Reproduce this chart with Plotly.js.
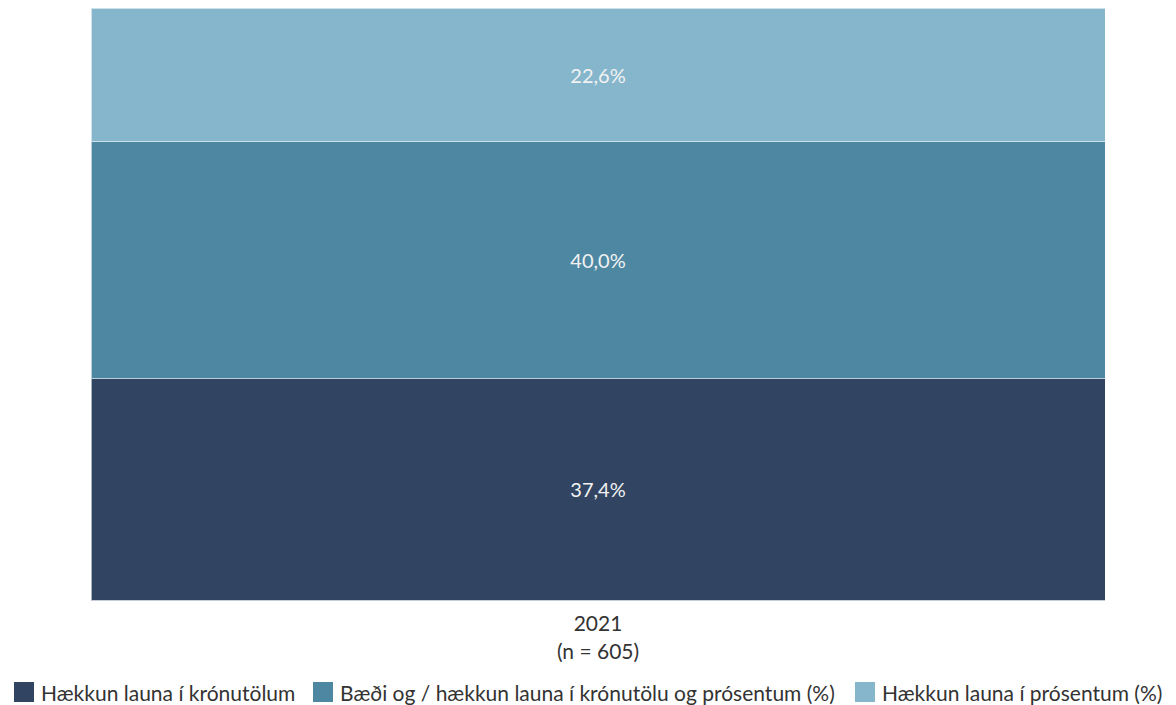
<!DOCTYPE html>
<html>
<head>
<meta charset="utf-8">
<script src="https://cdn.plot.ly/plotly-3.0.1.min.js"></script>
<style>html,body{margin:0;padding:0;background:#fff;}#chart{width:1176px;height:705px;}</style>
</head>
<body>
<div id="chart"></div>
<script>
const categories = ['2021<br>(n = 605)'];
const seriesNames = ['Hækkun launa í krónutölum', 'Bæði og / hækkun launa í krónutölu og prósentum (%)', 'Hækkun launa í prósentum (%)'];
const krona = [37.4];
const bothKronaPercent = [40.0];
const percent = [22.6];
const colors = ['#314563', '#4e87a2', '#86b6cc'];
const seriesValues = [krona, bothKronaPercent, percent];

const W = 1176, H = 705;
const M = {l: 91, r: 71, t: 8, b: 105};
const pw = W - M.l - M.r, ph = H - M.t - M.b;
const px = x => (x - M.l) / pw;          // pixel -> paper x
const py = y => (H - M.b - y) / ph;      // pixel -> paper y

const fontFam = 'Lato, "Noto Sans", sans-serif';
const traces = seriesValues.map((vals, i) => ({
  type: 'bar',
  name: seriesNames[i],
  x: categories,
  y: vals,
  marker: {color: colors[i], line: {color: 'rgba(255,255,255,0.6)', width: 1}},
  text: vals.map(v => v.toFixed(1).replace('.', ',') + '%'),
  textposition: 'inside',
  insidetextanchor: 'middle',
  textfont: {color: '#f2f2f2', size: 20, family: fontFam},
  hoverinfo: 'none',
  showlegend: false
}));

// custom legend (squares + labels) positioned like the reference
const legendX = [14, 313, 855];
const legendY = 692;
const shapes = seriesNames.map((n, i) => ({
  type: 'rect', xref: 'paper', yref: 'paper',
  x0: px(legendX[i]), x1: px(legendX[i] + 20), y0: py(legendY + 10), y1: py(legendY - 10),
  fillcolor: colors[i], line: {width: 0}
}));
const annotations = seriesNames.map((n, i) => ({
  text: n, xref: 'paper', yref: 'paper', x: px(legendX[i] + 25), y: py(legendY),
  xanchor: 'left', yanchor: 'middle', showarrow: false,
  font: {size: 21, color: '#333', family: fontFam}
}));

const layout = {
  width: W, height: H,
  margin: M,
  barmode: 'stack',
  bargap: 0,
  paper_bgcolor: '#fff', plot_bgcolor: '#fff',
  font: {family: fontFam, size: 21, color: '#333'},
  xaxis: {type: 'category', showline: true, linecolor: '#c5cbd8', linewidth: 1, ticks: 'outside', ticklen: 5, tickcolor: 'rgba(0,0,0,0)', tickfont: {size: 21, color: '#333'}, fixedrange: true},
  yaxis: {range: [0, 100], visible: false, fixedrange: true},
  showlegend: false,
  shapes: shapes,
  annotations: annotations
};
Plotly.newPlot('chart', traces, layout, {displayModeBar: false, staticPlot: true});
</script>
</body>
</html>
